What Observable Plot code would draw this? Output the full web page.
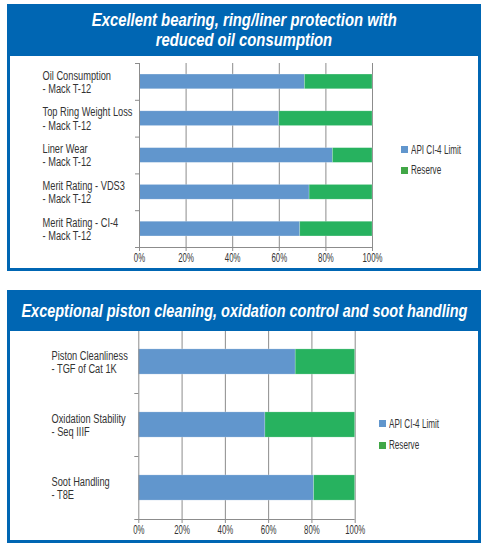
<!DOCTYPE html>
<html>
<head>
<meta charset="utf-8">
<script src="https://cdn.jsdelivr.net/npm/d3@7"></script>
<script src="https://cdn.jsdelivr.net/npm/@observablehq/plot@0.6"></script>
<style>
  html, body { margin: 0; padding: 0; background: #fff; }
  #root { position: relative; width: 492px; height: 548px; overflow: hidden;
    font-family: "Liberation Sans", Arial, sans-serif; }
  .hdr { position: absolute; background: #0066b3; color: #fff; font-weight: bold; font-style: italic;
    font-size: 19px; line-height: 20px; text-align: center; display: flex; flex-direction: column;
    align-items: center; justify-content: center; }
  .hdr span { display: inline-block; white-space: nowrap; line-height: 20px; }
  .box { position: absolute; border: 3px solid #0066b3; border-top: none; box-sizing: border-box; }
  .leg { position: absolute; font-size: 12.5px; color: #333; display: flex; align-items: center; white-space: nowrap; }
  .leg i { display: inline-block; width: 7px; height: 7px; margin-right: 3px; }
  .leg span { display: inline-block; transform-origin: left center; }
</style>
</head>
<body>
<div id="root"></div>
<script>
// ---- data ----
const title1 = ["Excellent bearing, ring/liner protection with", "reduced oil consumption"];
const categories1 = [
  "Oil Consumption\n- Mack T-12",
  "Top Ring Weight Loss\n- Mack T-12",
  "Liner Wear\n- Mack T-12",
  "Merit Rating - VDS3\n- Mack T-12",
  "Merit Rating - CI-4\n- Mack T-12"
];
const limit1 = [71, 60, 83, 73, 69];
const reserve1 = [29, 40, 17, 27, 31];

const title2 = ["Exceptional piston cleaning, oxidation control and soot handling"];
const categories2 = [
  "Piston Cleanliness\n- TGF of Cat 1K",
  "Oxidation Stability\n- Seq IIIF",
  "Soot Handling\n- T8E"
];
const limit2 = [72.5, 58.5, 81];
const reserve2 = [27.5, 41.5, 19];

const seriesNames = ["API CI-4 Limit", "Reserve"];
const barColors = ["#6196cd", "#27b25f"];
const legendColors = ["#6196cd", "#41a747"];
const xTicks = [0, 20, 40, 60, 80, 100];
const xTickLabels = ["0%", "20%", "40%", "60%", "80%", "100%"];

// ---- layout ----
const root = document.getElementById("root");
const FONT = '"Liberation Sans", Arial, sans-serif';
const GRID = "#8c8c8c";
const TEXT = "#333";
const LABEL_SIZE = 12.5, TICK_SIZE = 12, LEGEND_SIZE = 12.5;

// measure helper for condensing text (reference uses a condensed face)
const mctx = document.createElement("canvas").getContext("2d");
function textW(s, font) { mctx.font = font; return mctx.measureText(s).width; }
const labelFactor = 90 / textW("Top Ring Weight Loss", `${LABEL_SIZE}px ${FONT}`);
const tickFactor = 20 / textW("100%", `${TICK_SIZE}px ${FONT}`);
const legendFactor = 50 / textW("API CI-4 Limit", `${LEGEND_SIZE}px ${FONT}`);

function el(cls, css, html) {
  const d = document.createElement("div");
  d.className = cls;
  Object.assign(d.style, css);
  if (html != null) d.innerHTML = html;
  root.appendChild(d);
  return d;
}

function condense(nodes, f) {
  nodes.forEach(t => {
    const tsp = t.querySelectorAll("tspan");
    const leaves = tsp.length ? Array.from(tsp) : [t];
    leaves.forEach(l => {
      const w = l.getComputedTextLength();
      if (w > 0) {
        l.setAttribute("textLength", (w * f).toFixed(2));
        l.setAttribute("lengthAdjust", "spacingAndGlyphs");
      }
    });
  });
}

function chart(cats, limit, reserve, o) {
  const n = cats.length;
  const rows = cats.flatMap((c, i) => [
    {i, series: seriesNames[0], x1: 0, x2: limit[i]},
    {i, series: seriesNames[1], x1: limit[i], x2: limit[i] + reserve[i]}
  ]);
  const svg = Plot.plot({
    width: 492,
    height: o.height,
    marginLeft: o.left,
    marginRight: 492 - o.right,
    marginTop: o.top,
    marginBottom: o.bottom,
    style: {fontFamily: FONT, fontSize: "11px", color: TEXT, background: "transparent", overflow: "visible"},
    x: {domain: [0, 100], axis: null},
    y: {domain: [0, n], reverse: true, axis: null},
    color: {domain: seriesNames, range: barColors},
    marks: [
      Plot.gridX(xTicks.slice(1), {stroke: GRID, strokeOpacity: 1}),
      Plot.rectX(rows, {x1: "x1", x2: "x2", y1: d => d.i + 0.3, y2: d => d.i + 0.7, fill: "series",
        stroke: "#fff", strokeOpacity: 0.35, strokeWidth: 0.6}),
      Plot.ruleX([0], {stroke: GRID}),
      Plot.ruleY([n], {x1: 0, x2: 100, stroke: GRID}),
      Plot.axisX({ticks: xTicks, tickSize: 4, tickPadding: 1.5, stroke: GRID,
        tickFormat: t => xTickLabels[xTicks.indexOf(t)], fill: TEXT, fontSize: TICK_SIZE}),
      Plot.axisY({ticks: d3.range(n + 1), tickSize: 4, stroke: GRID, tickFormat: () => ""}),
      Plot.axisY({ticks: d3.range(n).map(i => i + 0.5), tickSize: 0, tickPadding: 0,
        tickFormat: t => cats[Math.floor(t)], textAnchor: "start", dx: o.labelX - o.left,
        lineHeight: 1.06, fill: TEXT, fontSize: LABEL_SIZE})
    ]
  });
  svg.style.position = "absolute";
  svg.style.left = "0px";
  svg.style.top = o.svgTop + "px";
  root.appendChild(svg);
  condense(svg.querySelectorAll("g[aria-label='y-axis tick label'] text"), labelFactor);
  condense(svg.querySelectorAll("g[aria-label='x-axis tick label'] text"), tickFactor);
}

function header(lines, css, targetW) {
  const h = el("hdr", css);
  lines.forEach(s => {
    const sp = document.createElement("span");
    sp.textContent = s;
    h.appendChild(sp);
  });
  const first = h.querySelector("span");
  const f = targetW / first.getBoundingClientRect().width;
  h.querySelectorAll("span").forEach(sp => { sp.style.transform = `scaleX(${f})`; });
}

function legend(x, y0, gap) {
  seriesNames.forEach((s, k) => {
    const d = el("leg", {left: x + "px", top: (y0 + k * gap) + "px", height: "11px"},
      `<i style="background:${legendColors[k]}"></i><span>${s}</span>`);
    d.querySelector("span").style.transform = `scaleX(${legendFactor})`;
  });
}

// panel 1
el("box", {left: "7px", top: "56px", width: "474px", height: "215px"});
chart(categories1, limit1, reserve1, {svgTop: 56, height: 212, top: 7, bottom: 21, left: 139, right: 372, labelX: 42});
header(title1, {left: "7px", top: "4px", width: "474px", height: "52px"}, 305);
legend(401, 144, 20.5);

// panel 2
el("box", {left: "7px", top: "331px", width: "474px", height: "212px"});
chart(categories2, limit2, reserve2, {svgTop: 325, height: 218, top: 5, bottom: 24, left: 138.3, right: 354.7, labelX: 51});
header(title2, {left: "7px", top: "290px", width: "474px", height: "41px"}, 446);
legend(379, 418, 21.5);
</script>
</body>
</html>
